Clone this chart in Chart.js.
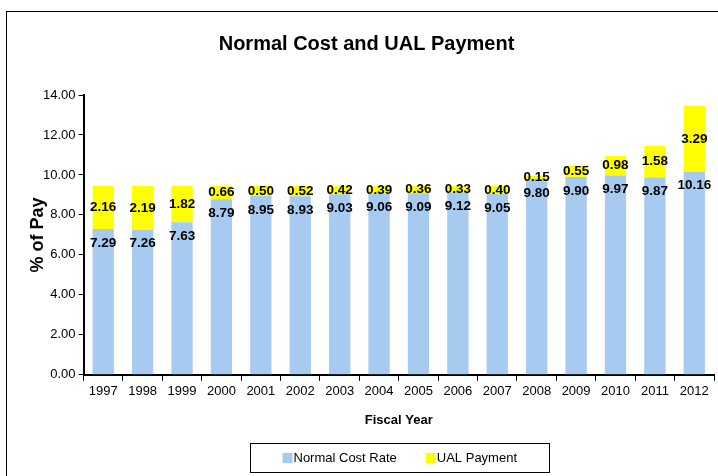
<!DOCTYPE html>
<html>
<head>
<meta charset="utf-8">
<script src="https://cdn.jsdelivr.net/npm/chart.js@4.4.1/dist/chart.umd.min.js"></script>
<style>
  html, body { margin: 0; padding: 0; background: #fff; overflow: hidden; }
  #wrap { position: relative; width: 718px; height: 476px; }
  #frame { position: absolute; left: 6px; top: 11px; width: 730px; height: 480px; border: 1px solid #000; box-sizing: border-box; pointer-events: none; }
  canvas { position: absolute; left: 0; top: 0; }
</style>
</head>
<body>
<div id="wrap">
  <canvas id="c" width="718" height="476"></canvas>
  <div id="frame"></div>
</div>
<script>
const years = ['1997','1998','1999','2000','2001','2002','2003','2004','2005','2006','2007','2008','2009','2010','2011','2012'];
const normalCost = [7.29, 7.26, 7.63, 8.79, 8.95, 8.93, 9.03, 9.06, 9.09, 9.12, 9.05, 9.80, 9.90, 9.97, 9.87, 10.16];
const ualPayment = [2.16, 2.19, 1.82, 0.66, 0.50, 0.52, 0.42, 0.39, 0.36, 0.33, 0.40, 0.15, 0.55, 0.98, 1.58, 3.29];
const seriesNames = ['Normal Cost Rate', 'UAL Payment'];
const seriesColors = ['#A6CAF0', '#FFFF00'];
const titleText = 'Normal Cost and UAL Payment';
const yTitle = '% of Pay';
const xTitle = 'Fiscal Year';

const FONT = "'Liberation Sans', Arial, sans-serif";

const labelPlugin = {
  id: 'barLabels',
  afterDatasetsDraw(chart) {
    const ctx = chart.ctx;
    ctx.save();
    ctx.font = 'bold 13.5px ' + FONT;
    ctx.fillStyle = '#000';
    ctx.textAlign = 'center';
    ctx.textBaseline = 'middle';
    chart.data.datasets.forEach((ds, di) => {
      const meta = chart.getDatasetMeta(di);
      meta.data.forEach((bar, i) => {
        const v = ds.data[i].toFixed(2);
        let y;
        if (di === 0) y = bar.y + 14;
        else y = (bar.y + bar.base) / 2;
        ctx.fillText(v, bar.x, y);
      });
    });
    ctx.restore();
  }
};

const legendPlugin = {
  id: 'boxLegend',
  afterDraw(chart) {
    const ctx = chart.ctx;
    const ca = chart.chartArea;
    const cx = (ca.left + ca.right) / 2;
    ctx.save();
    ctx.font = '13px ' + FONT;
    const sq = 10, gap = 1, between = 29, pad = 32;
    const w0 = ctx.measureText(seriesNames[0]).width;
    const w1 = ctx.measureText(seriesNames[1]).width;
    const inner = sq + gap + w0 + between + sq + gap + w1;
    const boxW = inner + pad * 2;
    const boxH = 29;
    const top = chart.height - 33;
    const left = Math.round(cx - boxW / 2) + 0.5;
    ctx.strokeStyle = '#000';
    ctx.lineWidth = 1;
    ctx.strokeRect(left, top + 0.5, Math.round(boxW), boxH);
    const midY = top + boxH / 2 + 0.5;
    let x = left + pad;
    ctx.textBaseline = 'middle';
    ctx.textAlign = 'left';
    [0, 1].forEach(k => {
      ctx.fillStyle = seriesColors[k];
      ctx.fillRect(x, midY - sq / 2, sq, sq);
      x += sq + gap;
      ctx.fillStyle = '#000';
      ctx.fillText(seriesNames[k], x, midY);
      x += (k === 0 ? w0 : w1) + between;
    });
    ctx.restore();
  }
};

new Chart(document.getElementById('c'), {
  type: 'bar',
  data: {
    labels: years,
    datasets: [
      { label: seriesNames[0], data: normalCost, backgroundColor: seriesColors[0], barPercentage: 0.54, categoryPercentage: 1 },
      { label: seriesNames[1], data: ualPayment, backgroundColor: seriesColors[1], barPercentage: 0.54, categoryPercentage: 1 }
    ]
  },
  options: {
    responsive: false,
    animation: false,
    devicePixelRatio: 1,
    layout: { padding: { top: 11, left: 19, right: 4, bottom: 48 } },
    plugins: {
      legend: { display: false },
      tooltip: { enabled: false },
      title: {
        display: true,
        text: titleText,
        color: '#000',
        font: { family: FONT, size: 20, weight: 'bold', lineHeight: 1.2 },
        padding: { top: 21, bottom: 39 }
      }
    },
    scales: {
      x: {
        stacked: true,
        grid: { drawOnChartArea: false, tickLength: 6, color: '#000', tickWidth: 1, offset: true },
        border: { color: '#000', width: 2 },
        ticks: { color: '#000', font: { family: FONT, size: 13 }, padding: 3, maxRotation: 0, autoSkip: false },
        title: { display: true, text: xTitle, color: '#000', font: { family: FONT, size: 13, weight: 'bold' }, padding: { top: 10, bottom: 0 } }
      },
      y: {
        stacked: true,
        min: 0,
        max: 14,
        grid: { drawOnChartArea: false, tickLength: 5, color: '#000', tickWidth: 1 },
        border: { color: '#000', width: 2 },
        ticks: { stepSize: 2, color: '#000', font: { family: FONT, size: 13 }, padding: 3, callback: v => Number(v).toFixed(2) },
        title: { display: true, text: yTitle, color: '#000', font: { family: FONT, size: 18, weight: 'bold', lineHeight: 1 }, padding: { top: 10, bottom: -7 } }
      }
    }
  },
  plugins: [labelPlugin, legendPlugin]
});
</script>
</body>
</html>
